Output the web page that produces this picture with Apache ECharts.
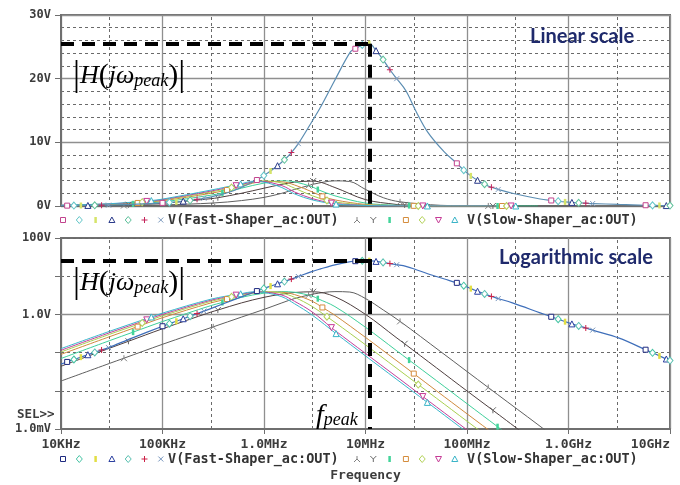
<!DOCTYPE html>
<html>
<head>
<meta charset="utf-8">
<script src="https://cdn.jsdelivr.net/npm/echarts@6/dist/echarts.min.js"></script>
<style>
  html, body { margin: 0; padding: 0; background: #ffffff; }
  #chart { width: 680px; height: 485px; }
</style>
</head>
<body>
<div id="chart"></div>
<script>
// ---------- tick labels ----------
const freqTickLabels = ['10KHz', '100KHz', '1.0MHz', '10MHz', '100MHz', '1.0GHz', '10GHz'];
const linearTickLabels = ['0V', '10V', '20V', '30V'];
const logTickExponents = [2, 0, -3];
const logTickLabels = ['100V', '1.0V', '1.0mV'];
const minorFreqs = [3e4, 3e5, 3e6, 3e7, 3e8, 3e9];

// ---------- V(Fast-Shaper_ac:OUT): the seven steps lie on one curve ----------
const fastFreq = [
  1e4, 11.5e3, 13.4e3, 15.7e3, 18.4e3, 21.5e3, 25.1e3, 29.4e3, 50e3,
  100e3, 117e3, 137e3, 160e3, 187e3, 219e3, 256e3, 316e3, 500e3,
  851e3, 995e3, 1.16e6, 1.36e6, 1.59e6, 1.86e6, 2.18e6, 2.9e6, 3.6e6, 5e6, 7.1e6,
  7.94e6, 9.29e6, 10.9e6, 12.7e6, 14.9e6, 17.4e6, 20.3e6, 25e6, 31.6e6, 41e6, 60e6,
  79.4e6, 92.9e6, 109e6, 127e6, 149e6, 174e6, 203e6, 280e6, 525e6,
  676e6, 791e6, 925e6, 1.08e9, 1.26e9, 1.48e9, 1.73e9, 3.16e9,
  5.75e9, 6.73e9, 7.87e9, 9.2e9, 1e10
];
const fastVolt = [
  0.05, 0.057, 0.066, 0.076, 0.088, 0.101, 0.117, 0.135, 0.24,
  0.49, 0.57, 0.66, 0.77, 0.90, 1.05, 1.22, 1.5, 2.4,
  4.08, 4.78, 5.5, 6.33, 7.26, 8.4, 9.8, 13, 15.5, 19.8, 24.2,
  24.7, 25.3, 25.5, 24.4, 23.0, 21.4, 20.0, 18.1, 14.8, 11.6, 8.45,
  6.7, 5.63, 4.73, 4.04, 3.43, 2.95, 2.6, 2.0, 1.1,
  0.867, 0.75, 0.645, 0.564, 0.498, 0.44, 0.387, 0.24,
  0.119, 0.099, 0.082, 0.068, 0.062
];
// first sample of every group of seven trace markers
const fastMarkerStarts = [11.5e3, 100e3, 851e3, 7.94e6, 79.4e6, 676e6, 5.75e9];

// ---------- V(Slow-Shaper_ac:OUT): seven parameter steps ----------
const slow1Freq = [1e4, 30e3, 41.7e3, 100e3, 316e3, 600e3, 1e6, 1.5e6, 2e6, 2.75e6, 3e6, 5e6, 7e6, 10e6, 15e6, 21.9e6, 55e6, 100e6, 162e6, 200e6, 500e6, 1e9];
const slow1Volt = [0.018, 0.052, 0.0713, 0.165, 0.472, 0.85, 1.35, 2.0, 2.6, 3.21, 3.4, 3.95, 3.85, 2.6, 1.3, 0.658, 0.106, 0.032, 0.0122, 0.008, 0.0013, 0.00032];
const slow1Marks = [41.7e3, 316e3, 2.75e6, 21.9e6, 162e6];

const slow2Freq = [1e4, 30e3, 46.2e3, 100e3, 300e3, 351e3, 600e3, 1e6, 1.5e6, 2e6, 3.05e6, 5e6, 10e6, 20e6, 24.3e6, 50e6, 100e6, 180e6, 500e6];
const slow2Volt = [0.044, 0.13, 0.198, 0.42, 1.15, 1.30, 2.0, 2.8, 3.4, 3.75, 3.91, 2.9, 1.0, 0.25, 0.170, 0.04, 0.0099, 0.00309, 0.0004];
const slow2Marks = [46.2e3, 351e3, 3.05e6, 24.3e6, 180e6];

const slow3Freq = [1e4, 30e3, 51.3e3, 100e3, 300e3, 389e3, 600e3, 1e6, 1.5e6, 2e6, 3e6, 3.39e6, 5e6, 10e6, 20e6, 26.9e6, 50e6, 100e6, 200e6, 500e6];
const slow3Volt = [0.07, 0.205, 0.343, 0.65, 1.7, 2.05, 2.8, 3.6, 3.95, 3.8, 3.0, 2.58, 1.6, 0.46, 0.115, 0.0636, 0.0185, 0.0046, 0.00115, 0.00018];
const slow3Marks = [51.3e3, 389e3, 3.39e6, 26.9e6, 200e6];

const slow4Freq = [1e4, 30e3, 56.9e3, 100e3, 300e3, 432e3, 600e3, 1e6, 1.5e6, 2e6, 3e6, 3.76e6, 5e6, 10e6, 20e6, 29.9e6, 50e6, 100e6, 200e6, 221e6];
const slow4Volt = [0.09, 0.26, 0.479, 0.82, 2.0, 2.52, 3.1, 3.85, 3.8, 3.3, 2.2, 1.52, 0.95, 0.25, 0.063, 0.0282, 0.01, 0.0025, 0.00063, 0.000514];
const slow4Marks = [56.9e3, 432e3, 3.76e6, 29.9e6, 221e6];

const slow5Freq = [1e4, 30e3, 63.1e3, 100e3, 300e3, 479e3, 600e3, 1e6, 1.5e6, 2e6, 3e6, 4.17e6, 5e6, 10e6, 20e6, 33.1e6, 50e6, 100e6, 200e6, 245e6];
const slow5Volt = [0.104, 0.3, 0.599, 0.92, 2.2, 2.89, 3.3, 3.95, 3.6, 2.8, 1.6, 0.869, 0.62, 0.16, 0.04, 0.0146, 0.0064, 0.0016, 0.0004, 0.000265];
const slow5Marks = [63.1e3, 479e3, 4.17e6, 33.1e6, 245e6];

const slow6Freq = [1e4, 30e3, 70e3, 100e3, 300e3, 531e3, 600e3, 900e3, 1.5e6, 2e6, 3e6, 4.62e6, 5e6, 10e6, 20e6, 36.7e6, 50e6, 100e6, 272e6];
const slow6Volt = [0.115, 0.33, 0.72, 1.0, 2.35, 3.19, 3.4, 3.9, 3.2, 2.2, 1.15, 0.45, 0.38, 0.095, 0.024, 0.00707, 0.0038, 0.00095, 0.000128];
const slow6Marks = [70e3, 531e3, 4.62e6, 36.7e6, 272e6];

const slow7Freq = [1e4, 30e3, 77.6e3, 100e3, 300e3, 589e3, 794e3, 1e6, 1.5e6, 2e6, 3e6, 5.13e6, 10e6, 20e6, 40.7e6, 50e6, 100e6, 302e6];
const slow7Volt = [0.127, 0.36, 0.857, 1.08, 2.5, 3.47, 3.9, 3.75, 2.9, 1.9, 0.95, 0.314, 0.082, 0.0205, 0.00497, 0.0033, 0.00082, 0.00009];
const slow7Marks = [77.6e3, 589e3, 5.13e6, 40.7e6, 302e6];

// ---------- styles ----------
const MONO = "'DejaVu Sans Mono', monospace";
const SERIF = "'Liberation Serif', 'DejaVu Serif', serif";
const AXIS_GREY = '#6f6f6f';
const MAJOR_GRID = '#8f8f8f';
const MINOR_GRID = '#6a6a6a';

const fastMarkerShapes = ['square', 'diamond', 'bar', 'triangle', 'diamond', 'plus', 'cross'];
const fastMarkerColors = [
  ['#c2448e', '#62c6c8', '#d6e46a', '#2a3a8a', '#5cc09a', '#c4245a', '#7f9cc0'],  // linear panel
  ['#1e2a80', '#46c4a4', '#e2de44', '#2c40a0', '#58c0b0', '#cc1f45', '#7594bd']   // log panel
];
const fastLineColors = ['#5b8db2', '#3f6fba'];

const slowMarkerShapes = ['lambda', 'y', 'bar', 'square', 'diamond', 'down', 'triangle'];
const slowMarkerColors = ['#808080', '#686868', '#42d49a', '#d48c3c', '#b4d25a', '#c63a96', '#3ab4c8'];
const slowLineColors = ['#5f5f5f', '#4e3f3f', '#3ecf9a', '#cf8a3e', '#a8d050', '#c2409a', '#3ab6cc'];

const SYMBOLS = {
  square:   { symbol: 'rect', size: 5, fill: 'white' },
  diamond:  { symbol: 'diamond', size: [6, 7], fill: 'white' },
  bar:      { symbol: 'rect', size: [2.5, 6], fill: 'solid' },
  triangle: { symbol: 'triangle', size: 6, fill: 'white' },
  down:     { symbol: 'path://M0,0L10,0L5,9Z', size: 6, fill: 'white' },
  plus:     { symbol: 'path://M5,0L5,10M0,5L10,5', size: 6, fill: 'none' },
  cross:    { symbol: 'path://M0,0L10,10M10,0L0,10', size: 5, fill: 'none' },
  y:        { symbol: 'path://M0,0L5,5L10,0M5,5L5,10', size: 6, fill: 'none' },
  lambda:   { symbol: 'path://M5,0L5,5M5,5L0,10M5,5L10,10', size: 6, fill: 'none' }
};

function markedPoint(f, v, shape, color) {
  if (!shape) return { value: [f, v], symbol: 'none' };
  const s = SYMBOLS[shape];
  return {
    value: [f, v],
    symbol: s.symbol,
    symbolSize: s.size,
    itemStyle: {
      color: s.fill === 'solid' ? color : (s.fill === 'white' ? '#ffffff' : 'rgba(0,0,0,0)'),
      borderColor: color,
      borderWidth: s.fill === 'solid' ? 0 : 1
    }
  };
}

function fastPoints(panel) {
  const starts = fastMarkerStarts.map(f => fastFreq.indexOf(f));
  return fastFreq.map((f, i) => {
    let k = -1;
    starts.forEach(s => { if (i >= s && i < s + 7) k = i - s; });
    return k < 0 ? markedPoint(f, fastVolt[i])
                 : markedPoint(f, fastVolt[i], fastMarkerShapes[k], fastMarkerColors[panel][k]);
  });
}

const slowTraces = [
  [slow1Freq, slow1Volt, slow1Marks],
  [slow2Freq, slow2Volt, slow2Marks],
  [slow3Freq, slow3Volt, slow3Marks],
  [slow4Freq, slow4Volt, slow4Marks],
  [slow5Freq, slow5Volt, slow5Marks],
  [slow6Freq, slow6Volt, slow6Marks],
  [slow7Freq, slow7Volt, slow7Marks]
];

function slowPoints(t) {
  const [freq, volt, marks] = slowTraces[t];
  return freq.map((f, i) => marks.includes(f)
    ? markedPoint(f, volt[i], slowMarkerShapes[t], slowMarkerColors[t])
    : markedPoint(f, volt[i]));
}

// peak of the fast shaper response, used for the |H(jw_peak)| guides
const iPeak = fastVolt.indexOf(Math.max(...fastVolt));
const fPeak = fastFreq[iPeak];
const vPeak = fastVolt[iPeak];

const dashedGuide = { color: '#000000', width: 4, type: [13, 8] };
const minorGridStyle = { color: MINOR_GRID, width: 1, type: [3, 3] };

function gridMarkLine(panel) {
  const data = minorFreqs.map(f => ({ xAxis: f }));
  if (panel === 1) data.push({ yAxis: 1, lineStyle: { type: 'solid', color: MAJOR_GRID, width: 1.3 } });
  return {
    silent: true, z: 1, symbol: ['none', 'none'], label: { show: false },
    emphasis: { disabled: true }, lineStyle: minorGridStyle, data: data
  };
}

function peakMarkLine(panel) {
  const yBottom = panel === 0 ? 0 : 1e-3;
  const vertical = panel === 0
    ? [{ coord: [fPeak, vPeak] }, { coord: [fPeak, yBottom] }]
    : [{ coord: [fPeak, 100] }, { coord: [fPeak, yBottom] }];
  return {
    silent: true, z: 6, symbol: ['none', 'none'], label: { show: false },
    emphasis: { disabled: true }, lineStyle: dashedGuide,
    data: [
      [{ coord: [1e4, vPeak] }, { coord: [fPeak, vPeak] }],
      vertical
    ]
  };
}

const series = [];
[0, 1].forEach(panel => {
  slowTraces.forEach((tr, t) => {
    const s = {
      type: 'line', name: 'V(Slow-Shaper_ac:OUT) #' + (t + 1),
      xAxisIndex: panel, yAxisIndex: panel,
      data: slowPoints(t),
      smooth: 0.35,
      showSymbol: true, showAllSymbol: true,
      lineStyle: { color: slowLineColors[t], width: 1 },
      itemStyle: { color: slowLineColors[t] },
      silent: true, z: 2, animation: false
    };
    if (t === 0) s.markLine = gridMarkLine(panel);
    series.push(s);
  });
  series.push({
    type: 'line', name: 'V(Fast-Shaper_ac:OUT)',
    xAxisIndex: panel, yAxisIndex: panel,
    data: fastPoints(panel),
    smooth: 0.35,
    showSymbol: true, showAllSymbol: true,
    lineStyle: { color: fastLineColors[panel], width: 1.2 },
    itemStyle: { color: fastLineColors[panel] },
    silent: true, z: 3, animation: false,
    markLine: peakMarkLine(panel)
  });
});

// ---------- legend rows drawn as graphics ----------
function glyph(shape, color, cx, cy) {
  const st = { stroke: color, lineWidth: 1, fill: '#ffffff' };
  const ln = (x1, y1, x2, y2) => ({ type: 'line', shape: { x1, y1, x2, y2 }, style: { stroke: color, lineWidth: 1 } });
  const pl = pts => ({ type: 'polyline', shape: { points: pts }, style: { stroke: color, lineWidth: 1, fill: null } });
  switch (shape) {
    case 'square':   return [{ type: 'rect', shape: { x: cx - 2.5, y: cy - 2.5, width: 5, height: 5 }, style: st }];
    case 'diamond':  return [{ type: 'polygon', shape: { points: [[cx, cy - 3.5], [cx + 3, cy], [cx, cy + 3.5], [cx - 3, cy]] }, style: st }];
    case 'bar':      return [{ type: 'rect', shape: { x: cx - 1.25, y: cy - 3, width: 2.5, height: 6 }, style: { fill: color } }];
    case 'triangle': return [{ type: 'polygon', shape: { points: [[cx, cy - 3], [cx + 3, cy + 2.5], [cx - 3, cy + 2.5]] }, style: st }];
    case 'down':     return [{ type: 'polygon', shape: { points: [[cx - 3, cy - 2.5], [cx + 3, cy - 2.5], [cx, cy + 3]] }, style: st }];
    case 'plus':     return [ln(cx - 3, cy, cx + 3, cy), ln(cx, cy - 3, cx, cy + 3)];
    case 'cross':    return [ln(cx - 2.5, cy - 2.5, cx + 2.5, cy + 2.5), ln(cx + 2.5, cy - 2.5, cx - 2.5, cy + 2.5)];
    case 'y':        return [pl([[cx - 3, cy - 3], [cx, cy], [cx + 3, cy - 3]]), ln(cx, cy, cx, cy + 3)];
    case 'lambda':   return [ln(cx, cy - 3, cx, cy), pl([[cx - 3, cy + 3], [cx, cy], [cx + 3, cy + 3]])];
  }
  return [];
}

const legendFont = 'bold 13.5px ' + MONO;
function legendRow(panel, cy) {
  const els = [];
  fastMarkerShapes.forEach((sh, k) => els.push(...glyph(sh, fastMarkerColors[panel][k], 63 + 16.3 * k, cy)));
  els.push({ type: 'text', style: { x: 168, y: cy, text: 'V(Fast-Shaper_ac:OUT)', font: legendFont, fill: '#333333', verticalAlign: 'middle' } });
  slowMarkerShapes.forEach((sh, k) => els.push(...glyph(sh, slowMarkerColors[k], 357 + 16.3 * k, cy)));
  els.push({ type: 'text', style: { x: 467, y: cy, text: 'V(Slow-Shaper_ac:OUT)', font: legendFont, fill: '#333333', verticalAlign: 'middle' } });
  return els;
}

const formulaRich = {
  bar: { fontFamily: SERIF, fontSize: 35, lineHeight: 36, verticalAlign: 'middle', color: '#111' },
  par: { fontFamily: SERIF, fontSize: 30, lineHeight: 36, verticalAlign: 'middle', color: '#111' },
  it:  { fontFamily: SERIF, fontSize: 26, fontStyle: 'italic', lineHeight: 36, verticalAlign: 'middle', color: '#111' },
  sub: { fontFamily: SERIF, fontSize: 18, fontStyle: 'italic', lineHeight: 36, verticalAlign: 'bottom', padding: [0, 0, 4, 0], color: '#111' }
};
const formulaText = '{bar||}{it|H}{par|(}{it|jω}{sub|peak}{par|)}{bar||}';

function formula(x, cy) {
  return { type: 'text', z: 20, style: { x: x, y: cy, text: formulaText, rich: formulaRich, verticalAlign: 'middle' } };
}

const graphics = [].concat(
  legendRow(0, 220),
  legendRow(1, 459),
  [
    { type: 'text', style: { x: 530, y: 36.5, text: 'Linear scale', font: 'bold 20px Lato, sans-serif', fill: '#1f2a6c', verticalAlign: 'middle' } },
    { type: 'text', style: { x: 499, y: 258, text: 'Logarithmic scale', font: 'bold 20px Lato, sans-serif', fill: '#1f2a6c', verticalAlign: 'middle' } },
    formula(73, 76),
    formula(73, 283),
    { type: 'text', z: 20, style: { x: 316, y: 416, verticalAlign: 'middle', text: '{f|f}{sub|peak}', rich: {
      f:   { fontFamily: SERIF, fontSize: 28, fontStyle: 'italic', lineHeight: 30, verticalAlign: 'middle', color: '#111' },
      sub: { fontFamily: SERIF, fontSize: 18, fontStyle: 'italic', lineHeight: 30, verticalAlign: 'bottom', padding: [0, 0, 2, 0], color: '#111' }
    } } },
    { type: 'text', style: { x: 17, y: 415, text: 'SEL>>', font: 'bold 12.5px ' + MONO, fill: '#3c3c3c', verticalAlign: 'middle' } }
  ]
).map(e => Object.assign({ z: 20, silent: true }, e));

const axisLabelStyle = { fontFamily: MONO, fontWeight: 'bold', color: '#3c3c3c' };

function xAxis(panel) {
  return {
    type: 'log', logBase: 10, min: 1e4, max: 1e10, gridIndex: panel,
    axisLine: { show: true, lineStyle: { color: AXIS_GREY, width: 2 } },
    axisTick: { show: panel === 1, length: 5, lineStyle: { color: AXIS_GREY } },
    axisLabel: Object.assign({
      show: panel === 1, fontSize: 13, margin: 9, alignMaxLabel: 'right',
      formatter: v => freqTickLabels[Math.round(Math.log10(v)) - 4] || ''
    }, axisLabelStyle),
    splitLine: { show: true, lineStyle: { color: MAJOR_GRID, width: 1.3 } },
    name: panel === 1 ? 'Frequency' : '',
    nameLocation: 'middle', nameGap: 40,
    nameTextStyle: Object.assign({ fontSize: 13 }, axisLabelStyle)
  };
}

const option = {
  animation: false,
  backgroundColor: '#ffffff',
  grid: [
    { left: 61, right: 10, top: 15, height: 191, show: true, borderColor: AXIS_GREY, borderWidth: 2 },
    { left: 61, right: 10, top: 238, height: 191, show: true, borderColor: AXIS_GREY, borderWidth: 2 }
  ],
  xAxis: [xAxis(0), xAxis(1)],
  yAxis: [
    {
      type: 'value', min: 0, max: 30, interval: 10, gridIndex: 0,
      axisLine: { show: true, lineStyle: { color: AXIS_GREY, width: 2 } },
      axisTick: { show: true, length: 6, lineStyle: { color: AXIS_GREY } },
      axisLabel: Object.assign({ fontSize: 12, margin: 10, formatter: v => linearTickLabels[Math.round(v / 10)] }, axisLabelStyle),
      splitLine: { show: true, lineStyle: { color: MAJOR_GRID, width: 1.3 } },
      minorTick: { show: false, splitNumber: 5 },
      minorSplitLine: { show: true, lineStyle: minorGridStyle }
    },
    {
      type: 'log', logBase: 10, min: 1e-3, max: 100, gridIndex: 1,
      axisLine: { show: true, lineStyle: { color: AXIS_GREY, width: 2 } },
      axisTick: { show: true, length: 6, lineStyle: { color: AXIS_GREY } },
      axisLabel: Object.assign({ fontSize: 12, margin: 10, formatter: v => {
        const i = logTickExponents.indexOf(Math.round(Math.log10(v)));
        return i < 0 ? '' : logTickLabels[i];
      } }, axisLabelStyle),
      splitLine: { show: true, lineStyle: minorGridStyle }
    }
  ],
  series: series,
  graphic: { elements: graphics }
};

const chart = echarts.init(document.getElementById('chart'), null, { renderer: 'canvas' });
chart.setOption(option);
</script>
</body>
</html>
